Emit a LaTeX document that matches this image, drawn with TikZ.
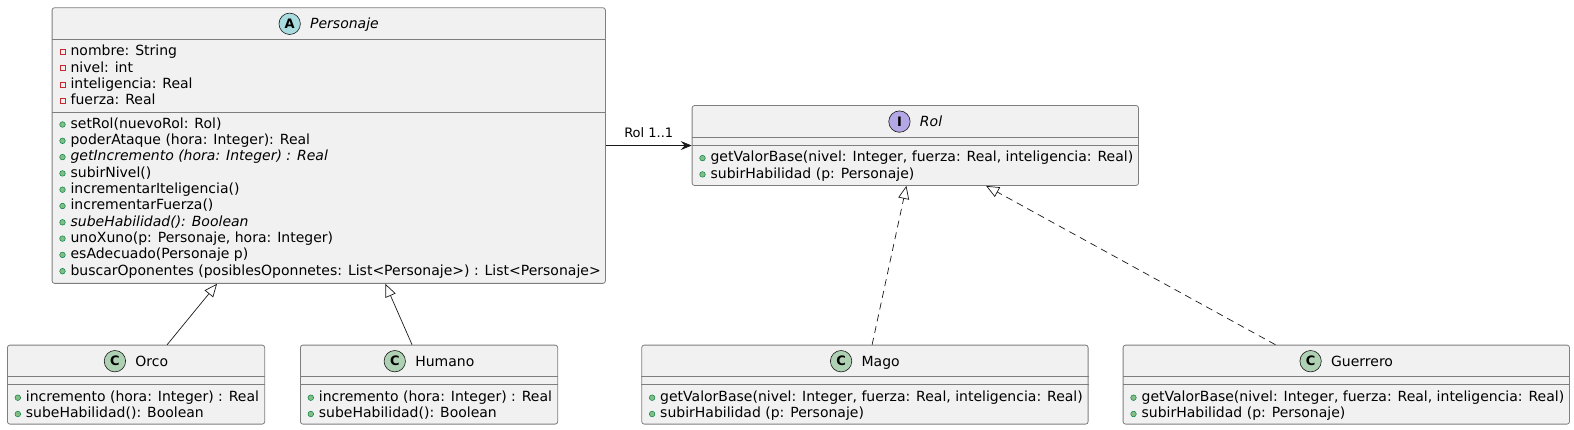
\documentclass[tikz,border=0pt]{standalone}
\usepackage{fontspec}
\setmainfont{DejaVu Sans}
\usetikzlibrary{arrows.meta}
\definecolor{boxfill}{HTML}{F1F1F1}
\definecolor{boxline}{HTML}{7E7E7E}
\definecolor{edge}{HTML}{181818}
\definecolor{absspot}{HTML}{A9DCDF}
\definecolor{ifcspot}{HTML}{B4A7E5}
\definecolor{clsspot}{HTML}{ADD1B2}
\definecolor{pubfill}{HTML}{84BE84}
\definecolor{publine}{HTML}{038048}
\definecolor{privline}{HTML}{C82930}
\newcommand{\pubicon}{\strut\tikz[baseline=-3.8pt]{\useasboundingbox (-3.2pt,-3.2pt) rectangle (3.2pt,3.2pt);
  \draw[publine,fill=pubfill,line width=0.5pt] (0pt,0pt) circle (2.8pt);}\hspace{4.9pt}}
\newcommand{\privicon}{\strut\tikz[baseline=-3.8pt]{\useasboundingbox (-3.2pt,-3.2pt) rectangle (3.2pt,3.2pt);
  \draw[privline,line width=0.7pt] (-2.4pt,-2.4pt) rectangle (2.4pt,2.4pt);}\hspace{4.9pt}}
\newcommand{\spot}[2]{\tikz[baseline=-5pt]\node[circle,anchor=center,draw=edge,fill=#2,line width=0.6pt,inner sep=0pt,minimum size=21.4pt,font=\bfseries\fontsize{13}{13}\selectfont] {#1};\hspace{9.5pt}}

\begin{document}
\begin{tikzpicture}[
  x=1pt,y=-1pt,
  font=\fontsize{14}{16.3}\selectfont,
  cls/.style={draw=boxline,fill=boxfill,line width=0.8pt,rounded corners=2.5pt,anchor=north west,inner sep=0pt},
  sep/.style={draw=boxline,line width=0.8pt},
  title/.style={inner sep=0pt},
  mem/.style={anchor=north west,align=left,inner sep=0pt},
  lbl/.style={font=\fontsize{13}{15}\selectfont,inner sep=3pt},
  assoc/.style={draw=edge,line width=0.8pt,-{Stealth[length=11pt,width=9pt,inset=4pt]}},
  inh/.style={draw=edge,line width=0.7pt,-{Triangle[open,length=13pt,width=11pt]}},
  real/.style={inh,dash pattern=on 7pt off 5pt}]
\useasboundingbox (0,0) rectangle (1574,430);
% classes
\node[cls,minimum width=553.3pt,minimum height=275.7pt] (pers) at (51.7,7.3) {};
\node[cls,minimum width=446.4pt,minimum height=80pt] (rol) at (691.7,105.1) {};
\node[cls,minimum width=257.3pt,minimum height=79pt] (orco) at (7,344.7) {};
\node[cls,minimum width=257.3pt,minimum height=79pt] (humano) at (300,344.7) {};
\node[cls,minimum width=446.4pt,minimum height=79pt] (mago) at (641.3,344.7) {};
\node[cls,minimum width=446.4pt,minimum height=79pt] (guer) at (1122.7,344.7) {};
% compartments
\draw[sep] ([yshift=-32pt]pers.north west) -- ([yshift=-32pt]pers.north east);
\draw[sep] ([yshift=-105.4pt]pers.north west) -- ([yshift=-105.4pt]pers.north east);
\foreach \c in {rol,orco,humano,mago,guer} {
  \draw[sep] ([yshift=-32pt]\c.north west) -- ([yshift=-32pt]\c.north east);
  \draw[sep] ([yshift=-40pt]\c.north west) -- ([yshift=-40pt]\c.north east);
}
% titles
\node[title] (persT) at ([yshift=-16.5pt]pers.north) {\spot{A}{absspot}\textit{Personaje}};
\node[title] (rolT) at ([yshift=-16.5pt]rol.north) {\spot{I}{ifcspot}\textit{Rol}};
\node[title] (orcoT) at ([yshift=-16.5pt]orco.north) {\spot{C}{clsspot}Orco};
\node[title] (humanoT) at ([yshift=-16.5pt]humano.north) {\spot{C}{clsspot}Humano};
\node[title] (magoT) at ([yshift=-16.5pt]mago.north) {\spot{C}{clsspot}Mago};
\node[title] (guerT) at ([yshift=-16.5pt]guer.north) {\spot{C}{clsspot}Guerrero};
% members
\node[mem] (persA) at ([xshift=7.4pt,yshift=-36.8pt]pers.north west) {\privicon nombre: String\\\privicon nivel: int\\\privicon inteligencia: Real\\\privicon fuerza: Real};
\node[mem] (persM) at ([xshift=7.4pt,yshift=-109.4pt]pers.north west) {\pubicon setRol(nuevoRol: Rol)\\
  \pubicon poderAtaque (hora: Integer): Real\\
  \pubicon \textit{getIncremento (hora: Integer) : Real}\\
  \pubicon subirNivel()\\
  \pubicon incrementarIteligencia()\\
  \pubicon incrementarFuerza()\\
  \pubicon \textit{subeHabilidad(): Boolean}\\
  \pubicon unoXuno(p: Personaje, hora: Integer)\\
  \pubicon esAdecuado(Personaje p)\\
  \pubicon buscarOponentes (posiblesOponnetes: List<Personaje>) : List<Personaje>};
\node[mem] (rolM) at ([xshift=7.4pt,yshift=-45.2pt]rol.north west) {\pubicon getValorBase(nivel: Integer, fuerza: Real, inteligencia: Real)\\\pubicon subirHabilidad (p: Personaje)};
\node[mem] (orcoM) at ([xshift=7.4pt,yshift=-45.2pt]orco.north west) {\pubicon incremento (hora: Integer) : Real\\\pubicon subeHabilidad(): Boolean};
\node[mem] (humanoM) at ([xshift=7.4pt,yshift=-45.2pt]humano.north west) {\pubicon incremento (hora: Integer) : Real\\\pubicon subeHabilidad(): Boolean};
\node[mem] (magoM) at ([xshift=7.4pt,yshift=-45.2pt]mago.north west) {\pubicon getValorBase(nivel: Integer, fuerza: Real, inteligencia: Real)\\\pubicon subirHabilidad (p: Personaje)};
\node[mem] (guerM) at ([xshift=7.4pt,yshift=-45.2pt]guer.north west) {\pubicon getValorBase(nivel: Integer, fuerza: Real, inteligencia: Real)\\\pubicon subirHabilidad (p: Personaje)};
% relations
\draw[assoc] (pers.east) -- node[lbl,above=4pt] {Rol 1..1} (pers.east -| rol.west);
\draw[inh] ([xshift=31.1pt]orco.north) -- ([xshift=-111.7pt]pers.south);
\draw[inh] ([xshift=-17pt]humano.north) -- ([xshift=56.6pt]pers.south);
\draw[real] ([xshift=7.2pt]mago.north) -- ([xshift=-8.9pt]rol.south);
\draw[real] ([xshift=-70.9pt]guer.north) -- ([xshift=70.8pt]rol.south);
\end{tikzpicture}
\end{document}
